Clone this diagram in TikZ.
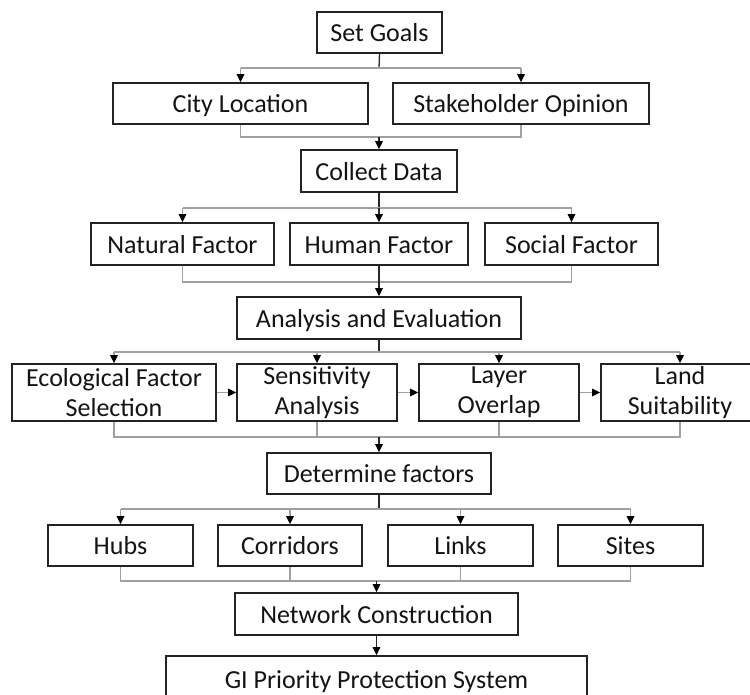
\documentclass[tikz,border=0pt]{standalone}
\usepackage{fontspec}
\setmainfont{Carlito}
\usetikzlibrary{arrows.meta,calc}
\definecolor{boxc}{RGB}{35,35,35}
\definecolor{grayc}{RGB}{160,160,160}
\definecolor{stemc}{RGB}{40,40,40}
\begin{document}
\begin{tikzpicture}[x=1pt,y=-1pt,
  box/.style={draw=boxc, line width=1.6pt, fill=white, inner sep=0pt,
    font=\fontsize{26}{30.5}\selectfont, text=black!92, align=center},
  one/.style={text height=20.5pt, text depth=2pt},
  gl/.style={draw=grayc, line width=1.3pt},
  garr/.style={gl, -{Triangle[length=8pt,width=7.5pt,color=black]}},
  stem/.style={draw=stemc, line width=1.3pt},
  sarr/.style={stem, -{Triangle[length=8pt,width=7.5pt,color=black]}},
]
\useasboundingbox[fill=white] (0,0) rectangle (750,695);

% boxes
\node[box,one,minimum width=125pt,minimum height=41pt] (sg) at (379.5,32.5) {Set Goals};
\node[box,one,minimum width=255pt,minimum height=41pt] (city) at (240.5,103.5) {City Location};
\node[box,one,minimum width=256pt,minimum height=41pt] (stake) at (521,103.5) {Stakeholder Opinion};
\node[box,one,minimum width=156pt,minimum height=42pt] (collect) at (379,171) {Collect Data};
\node[box,one,minimum width=183pt,minimum height=42pt] (nat) at (182.5,244) {Natural Factor};
\node[box,one,minimum width=178pt,minimum height=42pt] (hum) at (379,244) {Human Factor};
\node[box,one,minimum width=173pt,minimum height=42pt] (soc) at (571.5,244) {Social Factor};
\node[box,one,minimum width=284pt,minimum height=42pt] (ana) at (379,318) {Analysis and Evaluation};
\node[box,minimum width=204pt,minimum height=57pt] (eco) at (114,392.5) {Ecological Factor\\Selection};
\node[box,minimum width=160pt,minimum height=57pt] (sen) at (317,392.5) {Sensitivity\\Analysis};
\node[box,minimum width=160pt,minimum height=57pt] (lay) at (499,392.5) {Layer\\Overlap};
\node[box,minimum width=158pt,minimum height=57pt] (lan) at (680,392.5) {Land\\Suitability};
\node[box,one,minimum width=224pt,minimum height=41pt] (det) at (379,473.5) {Determine factors};
\node[box,one,minimum width=145pt,minimum height=41pt] (hub) at (120.5,545.5) {Hubs};
\node[box,one,minimum width=144pt,minimum height=41pt] (cor) at (290,545.5) {Corridors};
\node[box,one,minimum width=145pt,minimum height=41pt] (lin) at (460.5,545.5) {Links};
\node[box,one,minimum width=145pt,minimum height=41pt] (sit) at (630.5,545.5) {Sites};
\node[box,one,minimum width=283pt,minimum height=42pt] (net) at (376.5,614) {Network Construction};
\node[box,one,minimum width=421pt,minimum height=46pt] (gi) at (376.5,679) {GI Priority Protection System};

% level 1
\coordinate (b1) at (379,68);
\draw[stem] (sg.south) -- (b1);
\draw[gl] (city.north |- b1) -- (stake.north |- b1);
\draw[garr] (city.north |- b1) -- (city.north);
\draw[garr] (stake.north |- b1) -- (stake.north);
\coordinate (m1) at (379,137);
\draw[gl] (city.south) |- (m1) -| (stake.south);
\draw[sarr] (m1) -- (collect.north);

% level 2
\coordinate (b2) at (379,208);
\draw[stem] (collect.south) -- (b2);
\draw[gl] (nat.north |- b2) -- (soc.north |- b2);
\draw[garr] (nat.north |- b2) -- (nat.north);
\draw[garr] (soc.north |- b2) -- (soc.north);
\draw[sarr] (b2) -- (hum.north);
\coordinate (m2) at (379,282);
\draw[gl] (nat.south) |- (m2) -| (soc.south);
\draw[sarr] (hum.south) -- (ana.north);

% level 3
\coordinate (b3) at (379,352);
\draw[stem] (ana.south) -- (b3);
\draw[gl] (eco.north |- b3) -- (lan.north |- b3);
\draw[garr] (eco.north |- b3) -- (eco.north);
\draw[garr] (sen.north |- b3) -- (sen.north);
\draw[garr] (lay.north |- b3) -- (lay.north);
\draw[garr] (lan.north |- b3) -- (lan.north);
\draw[garr] (eco.east) -- (sen.west);
\draw[garr] (sen.east) -- (lay.west);
\draw[garr] (lay.east) -- (lan.west);
\coordinate (m3) at (379,437);
\draw[gl] (eco.south) |- (m3) -| (lan.south);
\draw[gl] (sen.south) -- (sen.south |- m3);
\draw[gl] (lay.south) -- (lay.south |- m3);
\draw[sarr] (m3) -- (det.north);

% level 4
\coordinate (b4) at (379,509);
\draw[stem] (det.south) -- (b4);
\draw[gl] (hub.north |- b4) -- (sit.north |- b4);
\draw[garr] (hub.north |- b4) -- (hub.north);
\draw[garr] (cor.north |- b4) -- (cor.north);
\draw[garr] (lin.north |- b4) -- (lin.north);
\draw[garr] (sit.north |- b4) -- (sit.north);
\coordinate (m4) at (376.5,581);
\draw[gl] (hub.south) |- (m4) -| (sit.south);
\draw[gl] (cor.south) -- (cor.south |- m4);
\draw[gl] (lin.south) -- (lin.south |- m4);
\draw[sarr] (m4) -- (net.north);
\draw[sarr] (net.south) -- (gi.north);
\end{tikzpicture}
\end{document}
